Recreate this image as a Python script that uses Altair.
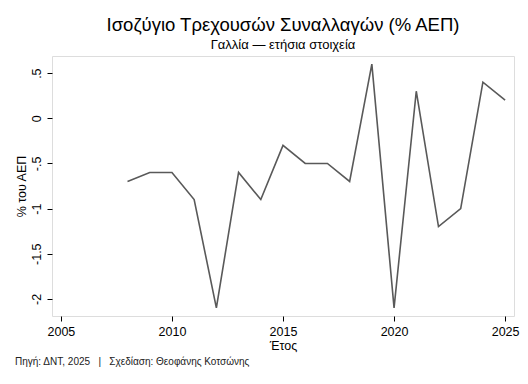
import altair as alt
import pandas as pd

years = [2008, 2009, 2010, 2011, 2012, 2013, 2014, 2015, 2016, 2017, 2018,
         2019, 2020, 2021, 2022, 2023, 2024, 2025]
balance = [-0.7, -0.6, -0.6, -0.9, -2.1, -0.6, -0.9, -0.3, -0.5, -0.5, -0.7,
           0.6, -2.1, 0.3, -1.2, -1.0, 0.4, 0.2]
x_ticks = [2005, 2010, 2015, 2020, 2025]
y_ticks = [-2, -1.5, -1, -0.5, 0, 0.5]
y_tick_labels = ["-2", "-1.5", "-1", "-.5", "0", ".5"]

title = "Ισοζύγιο Τρεχουσών Συναλλαγών (% ΑΕΠ)"
subtitle = "Γαλλία — ετήσια στοιχεία"
caption = "Πηγή: ΔΝΤ, 2025\u00a0\u00a0\u00a0|\u00a0\u00a0\u00a0Σχεδίαση: Θεοφάνης Κοτσώνης"

df = pd.DataFrame({"year": years, "value": balance})
FONT = "Liberation Sans"
W, H = 462, 260

label_expr = " : ".join(
    f"datum.value == {v} ? '{l}'" for v, l in zip(y_ticks, y_tick_labels)
) + " : ''"

line = alt.Chart(df).mark_line(color="#595959", strokeWidth=1.6).encode(
    x=alt.X("year:Q",
            scale=alt.Scale(domain=[2004.6, 2025.4], nice=False, zero=False),
            axis=alt.Axis(values=x_ticks, format="d", title="Έτος",
                          grid=False, tickSize=5, tickColor="#000",
                          domain=False, labelFontSize=12.5, labelColor="#000",
                          titleFontSize=12.5, titleFontWeight="normal",
                          titleColor="#000", labelPadding=4, titlePadding=2,
                          labelFont=FONT, titleFont=FONT)),
    y=alt.Y("value:Q",
            scale=alt.Scale(domain=[-2.19, 0.69], nice=False, zero=False),
            axis=alt.Axis(values=y_ticks, title="% του ΑΕΠ",
                          labelExpr=label_expr, labelOverlap=False,
                          grid=False, tickSize=5, tickColor="#000",
                          domain=False, labelAngle=270, labelAlign="center",
                          labelBaseline="bottom", labelFontSize=12.5,
                          labelColor="#000", titleFontSize=12.5,
                          titleFontWeight="normal", titleColor="#000",
                          labelPadding=4, titlePadding=2,
                          labelFont=FONT, titleFont=FONT)),
)

cap = alt.Chart(pd.DataFrame({"t": [caption]})).mark_text(
    align="left", baseline="middle", fontSize=10, font=FONT, color="#222"
).encode(x=alt.value(-37), y=alt.value(H + 46), text="t:N")

chart = alt.layer(line, cap).properties(
    width=W, height=H,
    title=alt.TitleParams(text=title, subtitle=subtitle, anchor="middle",
                          font=FONT, fontSize=18.5, fontWeight="normal",
                          color="#000", subtitleFont=FONT, subtitleFontSize=13,
                          subtitleColor="#000", offset=4, subtitlePadding=5),
    autosize=alt.AutoSizeParams(type="none"),
    padding={"left": 44, "top": 48, "right": 6, "bottom": 60},
).configure_view(stroke="#222", strokeWidth=1).configure(background="white")

chart.save("out.html", embed_options={"renderer": "svg", "actions": False})
